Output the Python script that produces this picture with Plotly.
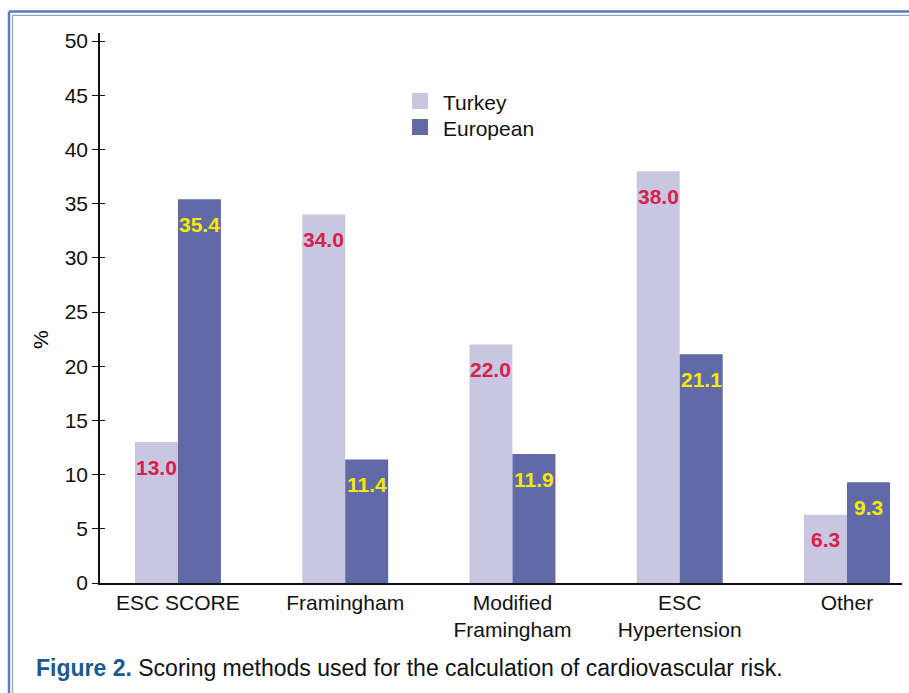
import plotly.graph_objects as go

# Scoring methods and share of use (%)
categories = ["ESC SCORE", "Framingham", "Modified<br>Framingham", "ESC<br>Hypertension", "Other"]
turkey = [13.0, 34.0, 22.0, 38.0, 6.3]
european = [35.4, 11.4, 11.9, 21.1, 9.3]
series_names = ["Turkey", "European"]
y_ticks = [0, 5, 10, 15, 20, 25, 30, 35, 40, 45, 50]

TURKEY_COLOR = "#c8c6e0"
EURO_COLOR = "#6169a7"
RED = "#d6214b"
YELLOW = "#f5ea00"
FONT = "Liberation Sans, Arial, Helvetica, sans-serif"
FS = 21

W, H = 909, 693
ML, MR, MT, MB = 100, 7, 33, 110
PW, PH = W - ML - MR, H - MT - MB


def px_x(px):
    return (px - ML) / PW


def px_y(py):
    return (H - MB - py) / PH


fig = go.Figure()

fig.add_trace(go.Bar(x=categories, y=turkey, name=series_names[0],
                     marker=dict(color=TURKEY_COLOR, line=dict(width=0)), showlegend=False))
fig.add_trace(go.Bar(x=categories, y=european, name=series_names[1],
                     marker=dict(color=EURO_COLOR, line=dict(width=0)), showlegend=False))

# an overlaid copy of the value axis provides the inner half of the crossing tick marks
fig.add_trace(go.Scatter(x=[None], y=[None], yaxis="y2", showlegend=False, hoverinfo="skip"))

annotations = []
# value labels inside the top of each bar
for series, color, side in ((turkey, RED, -1), (european, YELLOW, 1)):
    for cat, val in zip(categories, series):
        annotations.append(dict(x=cat, y=val, xref="x", yref="y", text=f"<b>{val:.1f}</b>",
                                showarrow=False, xshift=side * 21.5, yshift=-25, yanchor="middle",
                                font=dict(family=FONT, size=FS, color=color)))

# y-axis title
annotations.append(dict(x=px_x(41), y=px_y(340), xref="paper", yref="paper", text="%", textangle=-90,
                        showarrow=False, xanchor="center", yanchor="middle",
                        font=dict(family=FONT, size=FS, color="black")))

# compact legend: square swatch + label per series
shapes = []
for i, (name, color) in enumerate(zip(series_names, (TURKEY_COLOR, EURO_COLOR))):
    cy = 101 + 26 * i
    shapes.append(dict(type="rect", xref="paper", yref="paper", x0=px_x(412), x1=px_x(428),
                       y0=px_y(cy + 8), y1=px_y(cy - 8), fillcolor=color, line=dict(width=0)))
    annotations.append(dict(x=px_x(441), y=px_y(cy + 1), xref="paper", yref="paper", text=name,
                            showarrow=False, xanchor="left", yanchor="middle",
                            font=dict(family=FONT, size=FS, color="#111111")))

# figure caption
annotations.append(dict(x=px_x(34), y=px_y(668), xref="paper", yref="paper",
                        text="<span style='color:#1d5893'><b>Figure 2.</b></span> "
                             "Scoring methods used for the calculation of cardiovascular risk.",
                        showarrow=False, xanchor="left", yanchor="middle",
                        font=dict(family=FONT, size=23, color="#111111")))

# double frame along the top and left edges
shapes += [
    dict(type="line", xref="paper", yref="paper", x0=px_x(9), x1=px_x(W + 5), y0=px_y(11.5), y1=px_y(11.5),
         line=dict(color="#5b7db6", width=2.5)),
    dict(type="line", xref="paper", yref="paper", x0=px_x(9), x1=px_x(9), y0=px_y(11.5), y1=px_y(H + 5),
         line=dict(color="#5b7db6", width=2.5)),
    dict(type="line", xref="paper", yref="paper", x0=px_x(12.5), x1=px_x(W + 5), y0=px_y(15.3), y1=px_y(15.3),
         line=dict(color="#8fa7cf", width=1.3)),
    dict(type="line", xref="paper", yref="paper", x0=px_x(12.5), x1=px_x(12.5), y0=px_y(15.3), y1=px_y(H + 5),
         line=dict(color="#8fa7cf", width=1.3)),
]

fig.update_layout(
    width=W, height=H,
    margin=dict(l=ML, r=MR, t=MT, b=MB, pad=0),
    paper_bgcolor="white", plot_bgcolor="white",
    font=dict(family=FONT, size=FS, color="#111111"),
    barmode="group", bargap=0.486, bargroupgap=0,
    showlegend=False,
    xaxis=dict(range=[-0.466, 4.329], showgrid=False, zeroline=False, showline=True, linecolor="#111111",
               linewidth=1.6, ticks="", tickfont=dict(family=FONT, size=FS, color="#111111"),
               fixedrange=True),
    yaxis=dict(range=[0, 50.75], tickvals=y_ticks, ticks="outside", ticklen=6, tickwidth=1.2, tickcolor="#111111",
               showgrid=False, zeroline=False, showline=True, linecolor="#111111", linewidth=1.6,
               tickfont=dict(family=FONT, size=FS, color="#111111"), ticklabelstandoff=0),
    yaxis2=dict(range=[0, 50.75], overlaying="y", side="left", tickvals=y_ticks, ticks="inside", ticklen=5,
                tickwidth=1.2, tickcolor="#111111", showticklabels=False, showgrid=False, zeroline=False,
                showline=False),
    annotations=annotations,
    shapes=shapes,
)

fig.write_html("out.html")
